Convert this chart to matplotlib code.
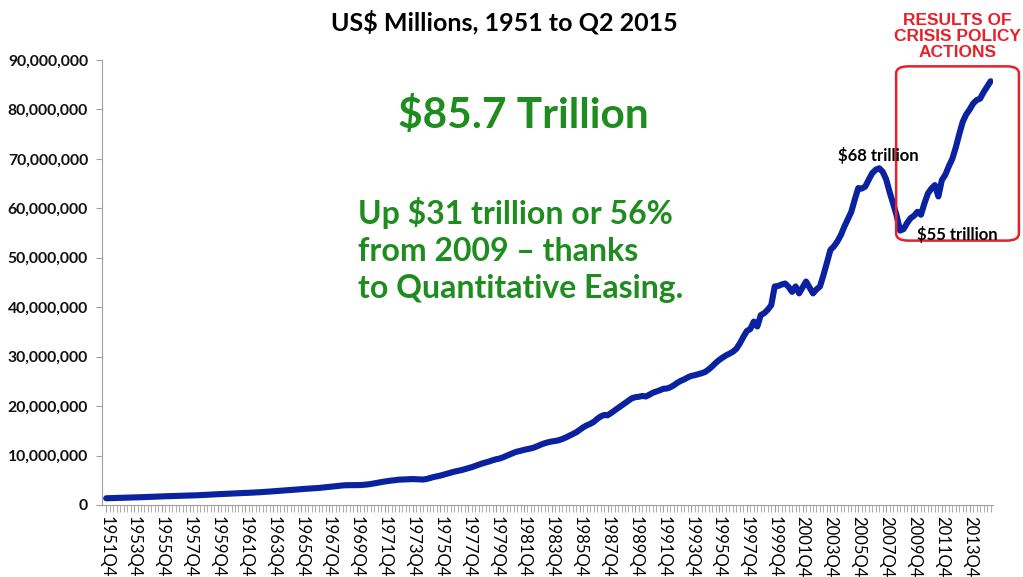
import numpy as np
import matplotlib
matplotlib.use('Agg')
import matplotlib.pyplot as plt
from matplotlib.patches import FancyBboxPatch
from matplotlib.ticker import FuncFormatter

plt.rcParams['font.family'] = ['Lato', 'DejaVu Sans']

# quarterly values, US$ trillions, 1951Q4 .. 2015Q2 (one row per year, Q1..Q4)
v1951 = [1.36]
v1952_1961 = [1.38, 1.40, 1.42, 1.45, 1.47, 1.49, 1.50, 1.52, 1.54, 1.57, 1.60, 1.63,
              1.66, 1.69, 1.72, 1.75, 1.77, 1.79, 1.81, 1.83, 1.85, 1.87, 1.88, 1.90,
              1.93, 1.96, 2.00, 2.04, 2.08, 2.12, 2.15, 2.18, 2.21, 2.24, 2.27, 2.30,
              2.33, 2.37, 2.41, 2.45]
v1962_1971 = [2.47, 2.50, 2.54, 2.58, 2.62, 2.67, 2.72, 2.77, 2.82, 2.87, 2.93, 2.98,
              3.03, 3.09, 3.15, 3.21, 3.26, 3.30, 3.33, 3.38, 3.44, 3.51, 3.58, 3.65,
              3.72, 3.80, 3.88, 3.96, 4.00, 4.01, 4.00, 4.02, 4.03, 4.08, 4.15, 4.25,
              4.38, 4.50, 4.62, 4.75]
v1972_1981 = [4.85, 4.95, 5.02, 5.12, 5.15, 5.20, 5.22, 5.24, 5.20, 5.18, 5.15, 5.25,
              5.45, 5.65, 5.80, 5.95, 6.15, 6.35, 6.55, 6.75, 6.90, 7.05, 7.25, 7.45,
              7.65, 7.90, 8.15, 8.40, 8.60, 8.80, 9.05, 9.25, 9.40, 9.65, 9.95, 10.25,
              10.55, 10.80, 10.95, 11.15]
v1982_1991 = [11.30, 11.45, 11.65, 11.95, 12.25, 12.50, 12.70, 12.85, 12.95, 13.10, 13.35, 13.65,
              14.00, 14.35, 14.70, 15.20, 15.70, 16.10, 16.40, 16.80, 17.40, 17.90, 18.20, 18.15,
              18.60, 19.10, 19.60, 20.10, 20.60, 21.10, 21.60, 21.80, 21.90, 22.05, 21.95, 22.30,
              22.70, 22.95, 23.20, 23.50]
v1992_2001 = [23.55, 23.80, 24.20, 24.70, 25.10, 25.40, 25.80, 26.10, 26.25, 26.45, 26.65, 26.90,
              27.40, 28.00, 28.70, 29.30, 29.80, 30.25, 30.60, 31.00, 31.60, 32.70, 34.00, 35.20,
              35.60, 37.10, 36.10, 38.40, 38.80, 39.50, 40.40, 44.20, 44.30, 44.60, 44.80, 44.10,
              43.10, 44.20, 42.80, 44.00]
v2002_2011 = [45.20, 44.00, 42.80, 43.60, 44.20, 46.50, 49.00, 51.60, 52.30, 53.30, 54.60, 56.30,
              57.80, 59.30, 61.80, 64.10, 64.00, 64.40, 65.80, 67.10, 67.80, 68.10, 67.40, 65.90,
              63.30, 61.00, 58.60, 55.50, 55.80, 57.00, 58.00, 58.50, 59.30, 58.70, 61.00, 63.00,
              64.00, 64.70, 62.40, 65.70]
v2012_2015 = [66.80, 68.50, 70.00, 72.30, 75.00, 77.50, 79.00, 80.00, 81.20, 81.90, 82.20, 83.50,
              84.60, 85.70]

values = np.array(v1951 + v1952_1961 + v1962_1971 + v1972_1981 + v1982_1991
                  + v1992_2001 + v2002_2011 + v2012_2015) * 1e6  # -> US$ millions

quarters = ['1951Q4']
for yr in range(1952, 2016):
    for q in range(1, 5):
        quarters.append('%dQ%d' % (yr, q))
quarters = quarters[:len(values)]

fig = plt.figure(figsize=(10.23, 5.77), dpi=100)
ax = fig.add_axes([0.0997, 0.1248, 0.8710, 0.7712])

x = np.arange(len(values))
ax.plot(x, values, color='#0a22a0', lw=4.4, solid_joinstyle='round', solid_capstyle='round')

ax.set_xlim(-1.2, len(values) - 0.3)
ax.set_ylim(0, 90e6)
ax.set_yticks(np.arange(0, 90e6 + 1, 10e6))
ax.yaxis.set_major_formatter(FuncFormatter(lambda v, p: '{:,.0f}'.format(v)))
for lab in ax.get_yticklabels():
    lab.set_fontweight('bold')
ax.tick_params(axis='y', labelsize=11.3, length=4, color='#a0a0a0', pad=6, labelcolor='#111111')

ax.set_xticks(x[::8])
ax.set_xticklabels(quarters[::8], rotation=-90, fontsize=12, va='top', ha='center')
ax.set_xticks(x, minor=True)
ax.tick_params(axis='x', which='both', length=5, color='#a0a0a0', pad=3)

for s in ['top', 'right']:
    ax.spines[s].set_visible(False)
ax.spines['left'].set_color('#a0a0a0')
ax.spines['bottom'].set_color('#a0a0a0')

fig.text(0.493, 0.962, 'US$ Millions, 1951 to Q2 2015', ha='center', va='center',
         fontsize=18, fontweight='bold')

green = '#1e8c1e'
fig.text(0.512, 0.80, '$85.7 Trillion', ha='center', va='center', fontsize=30.5,
         fontweight='bold', color=green)
fig.text(0.350, 0.566, 'Up $31 trillion or 56%\nfrom 2009 \u2013 thanks\nto Quantitative Easing.',
         ha='left', va='center', fontsize=23, fontweight='bold', color=green,
         linespacing=1.33)

fig.text(0.859, 0.731, '$68 trillion', ha='center', va='center', fontsize=12, fontweight='bold')
fig.text(0.936, 0.594, '$55 trillion', ha='center', va='center', fontsize=12, fontweight='bold')

fig.text(0.936, 0.936, 'RESULTS OF\nCRISIS POLICY\nACTIONS', ha='center', va='center',
         fontsize=12.5, fontweight='bold', color='#e8202a', linespacing=1.08,
         family='Liberation Sans')

box = FancyBboxPatch((0.876 + 0.012, 0.575 + 0.02), 0.120 - 0.024, 0.318 - 0.04,
                     boxstyle='round,pad=0.012', transform=fig.transFigure,
                     fill=False, edgecolor='#e8202a', lw=1.8)
fig.patches.append(box)

fig.savefig('out.png', dpi=100)
